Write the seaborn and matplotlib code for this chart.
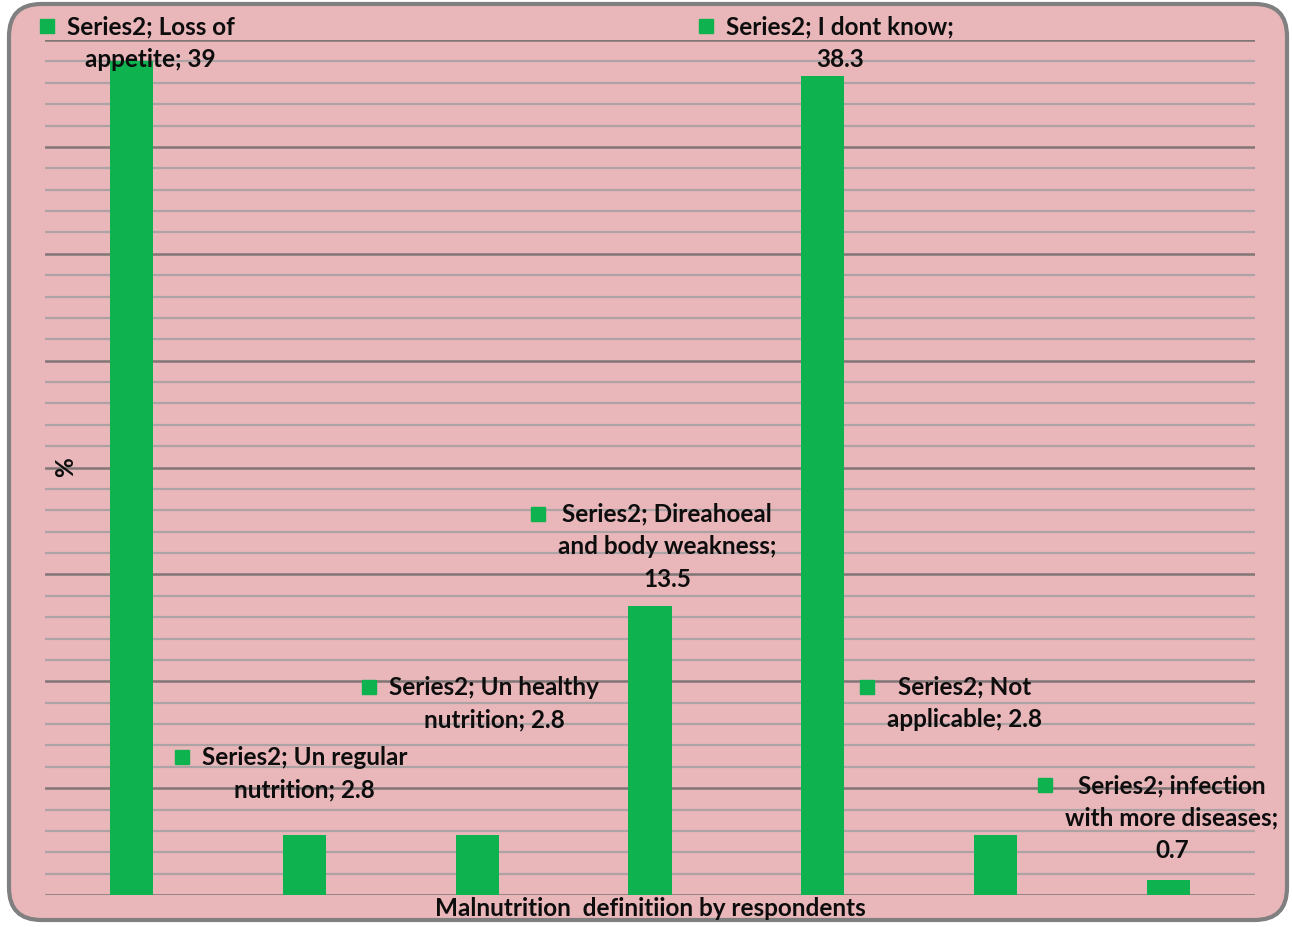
import matplotlib
matplotlib.use("Agg")
import matplotlib.pyplot as plt
from matplotlib.patches import FancyBboxPatch
from matplotlib.ticker import MultipleLocator
import seaborn as sns
import pandas as pd

# Responses to "what is malnutrition?"
categories = [
    "Loss of appetite",
    "Un regular nutrition",
    "Un healthy nutrition",
    "Direahoeal and body weakness",
    "I dont know",
    "Not applicable",
    "infection with more diseases",
]
values = [39, 2.8, 2.8, 13.5, 38.3, 2.8, 0.7]
series_name = "Series2"

# Wrapped label text, one entry per bar
label_lines = [
    ["Series2; Loss of", "appetite; {v}"],
    ["Series2; Un regular", "nutrition; {v}"],
    ["Series2; Un healthy", "nutrition; {v}"],
    ["Series2; Direahoeal", "and body weakness;", "{v}"],
    ["Series2; I dont know;", "{v}"],
    ["Series2; Not", "applicable; {v}"],
    ["Series2; infection", "with more diseases;", "{v}"],
]

# Label placement: horizontal shift (category units) and y of the first line's centre (data units)
label_dx = [0.11, 0.0, 0.10, 0.10, 0.10, -0.18, 0.02]
label_mid = [40.6, 6.4, 9.7, 17.8, 40.6, 9.7, 5.1]

GREEN = "#0EB24E"
PINK = "#E9B6BA"
BORDER = "#808080"

W, H, DPI = 12.92, 9.27, 100
sns.set_theme(style="white")
plt.rcParams["font.family"] = ["Lato", "DejaVu Sans"]

fig = plt.figure(figsize=(W, H), dpi=DPI)
fig.patch.set_facecolor("white")

# Rounded chart-area frame
frame = FancyBboxPatch(
    (9 / 1292, 7 / 927), 1278 / 1292, 916 / 927,
    boxstyle="round,pad=0,rounding_size=0.025",
    transform=fig.transFigure, facecolor=PINK, edgecolor=BORDER,
    linewidth=3, zorder=-5, mutation_aspect=1292 / 927,
)
fig.patches.append(frame)

ax = fig.add_axes([45 / 1292, 32 / 927, 1210 / 1292, 855 / 927])
ax.set_facecolor("none")
ax.set_zorder(1)

df = pd.DataFrame({"category": categories, "value": values})
sns.barplot(data=df, x="category", y="value", color=GREEN, saturation=1,
            width=0.25, linewidth=0, ax=ax, zorder=3)

ax.set_xlim(-0.5, len(categories) - 0.5)
ax.set_ylim(0, 40)
ax.yaxis.set_major_locator(MultipleLocator(5))
ax.yaxis.set_minor_locator(MultipleLocator(1))
ax.grid(axis="y", which="minor", color="#ADA3A4", linewidth=1.6, zorder=1)
ax.grid(axis="y", which="major", color="#807676", linewidth=1.8, zorder=2)
ax.grid(axis="x", visible=False)
ax.set_axisbelow(True)
ax.tick_params(axis="both", which="both", length=0, labelleft=False, labelbottom=False)
ax.set_xlabel("")
ax.set_ylabel("")
for s in ax.spines.values():
    s.set_visible(False)

fs = 17.5
INK = "#0D0D0D"

# Axis titles
fig.text(650 / 1292, 1 - 908 / 927, "Malnutrition  definitiion by respondents",
         ha="center", va="center", fontsize=fs, fontweight="bold", color=INK)
fig.text(66 / 1292, 1 - 467 / 927, "%", rotation=90, ha="center", va="center",
         fontsize=fs, fontweight="bold", color=INK)

# Data labels with legend-key squares
fig.canvas.draw()
renderer = fig.canvas.get_renderer()
inv = ax.transData.inverted()
for i, (lines, v) in enumerate(zip(label_lines, values)):
    vtxt = f"{v:g}"
    text = "\n".join(l.format(v=vtxt) for l in lines)
    x = i + label_dx[i]
    px, py = ax.transData.transform((x, label_mid[i]))
    _, ytop = inv.transform((px, py + 12))
    t = ax.text(x, ytop, text, ha="center", va="top", fontsize=fs,
                fontweight="bold", color=INK, linespacing=1.5,
                zorder=5, clip_on=False)
    # key square sits just left of the label block
    w = t.get_window_extent(renderer=renderer).width
    mxd, myd = inv.transform((px - w / 2 - 20, py + 1))
    ax.plot([mxd], [myd], marker="s", markersize=10, color=GREEN,
            linestyle="none", zorder=5, clip_on=False)

fig.savefig("out.png", dpi=DPI)
